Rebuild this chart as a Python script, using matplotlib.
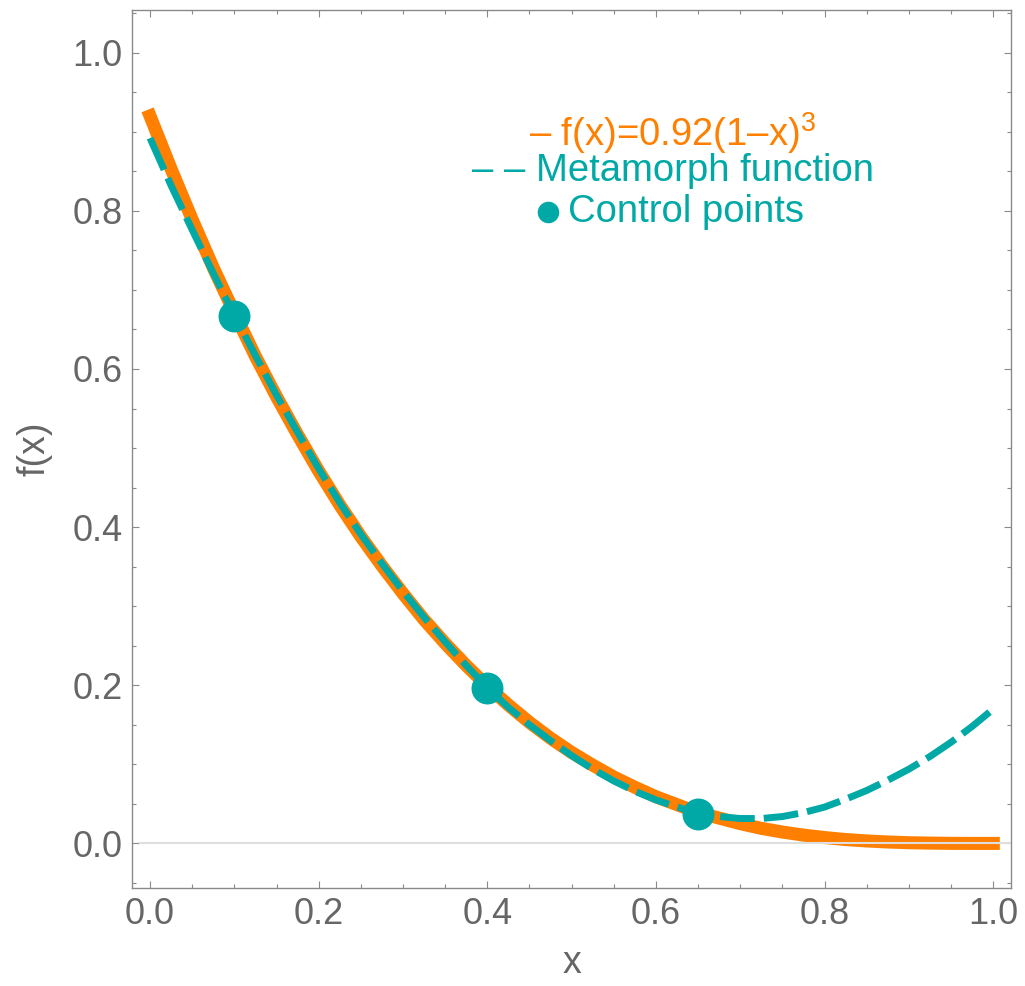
import matplotlib
matplotlib.use("Agg")
import matplotlib.pyplot as plt
from matplotlib.lines import Line2D
from matplotlib.ticker import MultipleLocator

# ---------------- data ----------------
x_vals = [0.000, 0.025, 0.050, 0.075, 0.100, 0.125, 0.150, 0.175, 0.200, 0.225,
          0.250, 0.275, 0.300, 0.325, 0.350, 0.375, 0.400, 0.425, 0.450, 0.475,
          0.500, 0.525, 0.550, 0.575, 0.600, 0.625, 0.650, 0.675, 0.700, 0.725,
          0.750, 0.775, 0.800, 0.825, 0.850, 0.875, 0.900, 0.925, 0.950, 0.975, 1.000]
f_vals = [0.920, 0.853, 0.789, 0.728, 0.671, 0.616, 0.565, 0.517, 0.471, 0.428,
          0.388, 0.351, 0.316, 0.283, 0.253, 0.225, 0.199, 0.175, 0.153, 0.133,
          0.115, 0.099, 0.084, 0.071, 0.059, 0.049, 0.039, 0.032, 0.025, 0.019,
          0.0144, 0.0105, 0.0074, 0.0049, 0.0031, 0.0018, 0.0009, 0.0004, 0.0001, 0.0, 0.0]

x_meta = [0.000, 0.025, 0.050, 0.075, 0.100, 0.125, 0.150, 0.175, 0.200, 0.225,
          0.250, 0.275, 0.300, 0.325, 0.350, 0.375, 0.400, 0.425, 0.450, 0.475,
          0.500, 0.525, 0.550, 0.575, 0.600, 0.625, 0.650, 0.675, 0.700, 0.725,
          0.750, 0.775, 0.800, 0.825, 0.850, 0.875, 0.900, 0.925, 0.950, 0.975, 1.000]
meta_vals = [0.892, 0.832, 0.776, 0.721, 0.668, 0.617, 0.567, 0.520, 0.474, 0.431,
             0.391, 0.354, 0.319, 0.286, 0.255, 0.225, 0.197, 0.172, 0.150, 0.130,
             0.111, 0.094, 0.079, 0.066, 0.055, 0.046, 0.038, 0.034, 0.0315, 0.0315,
             0.034, 0.039, 0.046, 0.056, 0.067, 0.080, 0.094, 0.110, 0.128, 0.148, 0.170]

ctrl_x = [0.10, 0.40, 0.65]
ctrl_y = [0.667, 0.196, 0.037]

x_ticks = [0.0, 0.2, 0.4, 0.6, 0.8, 1.0]
y_ticks = [0.0, 0.2, 0.4, 0.6, 0.8, 1.0]

legend_labels = ["\u2013 f(x)=0.92(1\u2013x)$^{3}$", "\u2013 \u2013 Metamorph function", "Control points"]

# ---------------- style ----------------
ORANGE = "#FF8000"
TEAL = "#00A9A6"
GRAY_TXT = "#666666"
GRAY_AX = "#8a8a8a"

plt.rcParams["font.family"] = ["Liberation Sans", "DejaVu Sans"]
plt.rcParams["mathtext.fontset"] = "custom"
plt.rcParams["mathtext.rm"] = "Liberation Sans"
plt.rcParams["mathtext.it"] = "Liberation Sans"
plt.rcParams["lines.scale_dashes"] = False

W, H = 1025, 986
fig = plt.figure(figsize=(W / 100, H / 100), dpi=100)
left, right, top, bottom = 132.3, 1011, 9.5, 887.7
ax = fig.add_axes([left / W, 1 - bottom / H, (right - left) / W, (bottom - top) / H])

ax.plot(x_vals, f_vals, color=ORANGE, lw=9.4, solid_capstyle="projecting",
        solid_joinstyle="round", zorder=2)
ax.axhline(0, xmin=0.009, xmax=1, color="#dedede", lw=1.5, zorder=2.5)
ax.plot(x_meta, meta_vals, color=TEAL, lw=5.0, linestyle=(0, (25, 6.5)),
        dash_capstyle="butt", dash_joinstyle="round", zorder=3)
ax.plot(ctrl_x, ctrl_y, "o", color=TEAL, markersize=23, markeredgewidth=0, zorder=4)

ax.set_xlim(-0.021, 1.021)
ax.set_ylim(-0.056, 1.0546)

ax.xaxis.set_minor_locator(MultipleLocator(0.05))
ax.yaxis.set_minor_locator(MultipleLocator(0.05))
ax.set_xticks(x_ticks)
ax.set_yticks(y_ticks)
ax.set_xticklabels([f"{v:.1f}" for v in x_ticks])
ax.set_yticklabels([f"{v:.1f}" for v in y_ticks])

ax.tick_params(which="both", direction="in", top=True, right=True, color=GRAY_AX, width=0.8)
ax.tick_params(which="major", length=5, labelsize=26, labelcolor=GRAY_TXT, pad=7)
ax.tick_params(which="minor", length=3)
for s in ax.spines.values():
    s.set_color(GRAY_AX)
    s.set_linewidth(1.0)

ax.set_xlabel("x", fontsize=27, color=GRAY_TXT, labelpad=9)
ax.set_ylabel("f(x)", fontsize=27, color=GRAY_TXT, labelpad=14)

# legend as centred text lines
cx = 673 / W
fs_leg = 27.5
fig.text(cx, 1 - 146 / H, legend_labels[0], color=ORANGE, fontsize=fs_leg, ha="center", va="baseline")
fig.text(cx, 1 - 181 / H, legend_labels[1], color=TEAL, fontsize=fs_leg, ha="center", va="baseline")
fig.text(568 / W, 1 - 222 / H, legend_labels[2], color=TEAL, fontsize=fs_leg, ha="left", va="baseline")
fig.add_artist(Line2D([547.5 / W], [1 - 212 / H], marker="o", markersize=15.5, color=TEAL,
                      markeredgewidth=0, linestyle="none", transform=fig.transFigure))

fig.savefig("out.png", dpi=100)
